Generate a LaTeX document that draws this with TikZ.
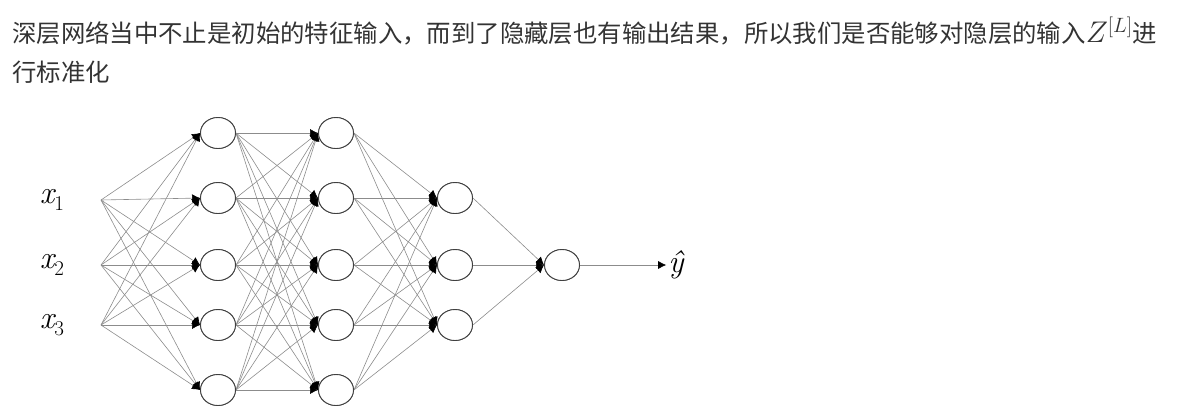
\documentclass[tikz,border=0pt]{standalone}
\usepackage{fontspec}
\newfontfamily\cjk{Noto Sans CJK SC}
\usetikzlibrary{arrows.meta,shapes.geometric}
\newcommand{\myxlab}[1]{{\fontsize{32}{32}\selectfont\itshape x}\raisebox{-7pt}{\fontsize{21}{21}\selectfont #1}}
\begin{document}
\begin{tikzpicture}[x=1pt,y=-1pt,
  neuron/.style={draw=black!75,line width=0.9pt,ellipse,minimum width=35pt,minimum height=31pt,inner sep=0pt,fill=white},
  edge/.style={draw=black!45,line width=0.6pt,-{Latex[length=8pt,width=8pt,black]}},
  xin/.style={inner sep=2pt},
  para/.style={anchor=west,text=black!80,font=\cjk\fontsize{24.4}{24.4}\selectfont,inner sep=0pt}]
\useasboundingbox (0,0) rectangle (1181,408);
\node[para] (t1) at (12,31) {深层网络当中不止是初始的特征输入，而到了隐藏层也有输出结果，所以我们是否能够对隐层的输入\scalebox{1.2}{$Z^{[L]}$}进};
\node[para] (t2) at (12,72) {行标准化};
\foreach \i/\y in {1/200,2/265,3/325}{
  \node[xin] (x\i) at (52,\y) {\myxlab{\i}};
  \coordinate (p\i) at (101,\y);}
\foreach \i/\y in {1/133,2/198,3/265,4/325,5/390}{
  \node[neuron] (a\i) at (218,\y) {};
  \node[neuron] (b\i) at (336,\y) {};}
\foreach \i/\y in {1/198,2/265,3/325}{\node[neuron] (c\i) at (455,\y) {};}
\node[neuron] (d) at (562,265) {};
\node[xin,font=\fontsize{32}{32}\selectfont\itshape] (yh) at (676,265) {ŷ};
\foreach \i in {1,2,3}{\foreach \j in {1,...,5}{\draw[edge] (p\i) -- (a\j.west);}}
\foreach \i in {1,...,5}{\foreach \j in {1,...,5}{\draw[edge] (a\i.east) -- (b\j.west);}}
\foreach \i in {1,...,5}{\foreach \j in {1,2,3}{\draw[edge] (b\i.east) -- (c\j.west);}}
\foreach \i in {1,2,3}{\draw[edge] (c\i.east) -- (d.west);}
\draw[edge] (d.east) -- (yh.west);
\foreach \i in {1,...,5}{\node[neuron] at (a\i) {};\node[neuron] at (b\i) {};}
\foreach \i in {1,2,3}{\node[neuron] at (c\i) {};}
\node[neuron] at (d) {};
\end{tikzpicture}
\end{document}
